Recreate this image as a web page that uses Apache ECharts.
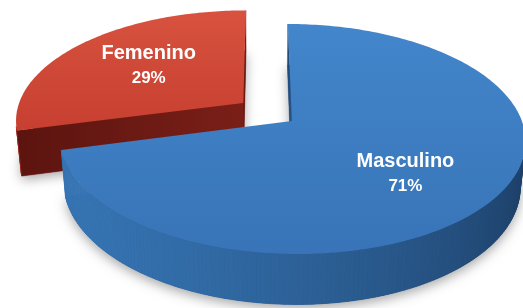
<!DOCTYPE html>
<html lang="es">
<head>
    <meta charset="UTF-8">
    <title>Sexo</title>
    <script src="https://cdn.jsdelivr.net/npm/echarts@6/dist/echarts.min.js"></script>
</head>
<style>
html,body{margin:0;padding:0;background:#fff;}
#chartBox{width:523px;height:308px;}
</style>
<body>
    <div id="chartBox"></div>
</body>
<script>
// datos
const names = ['Femenino', 'Masculino'];
const values = [29, 71];

// estilo de cada porción
const STYLE = {
    Femenino: {
        explode: 0.27,
        top: ['#d8523f', '#c63f30'],
        side: ['#5a130f', '#a32c21'],
        cut: ['#5c140f', '#7a1f18'],
        labelOffset: [5, 0]
    },
    Masculino: {
        explode: 0,
        top: ['#4386cb', '#3874b7'],
        side: ['#1b3b61', '#3674b3'],
        cut: ['#1f4370', '#2a5a8e'],
        labelOffset: [-4, 9]
    }
};

// proyección en perspectiva (cámara algo a la izquierda del centro)
const RAD = Math.PI / 180;
const CX = 262, CY = 121, K = 1281, D = 5.57, TILT = 29.2 * RAD, H = 0.23, CAMX = -0.13;
const SA = Math.sin(TILT), CA = Math.cos(TILT);
const CAM = [CAMX, -D * CA, D * SA];

function proj(x, y, z) {
    let yv = y * SA + z * CA;
    let zd = y * CA - z * SA;
    let s = K / (D + zd);
    return [CX + (x - CAMX) * s, CY - yv * s];
}

function mix(c1, c2, t) {
    let a = parseInt(c1.slice(1), 16), b = parseInt(c2.slice(1), 16);
    let r = Math.round(((a >> 16) & 255) * (1 - t) + ((b >> 16) & 255) * t);
    let g = Math.round(((a >> 8) & 255) * (1 - t) + ((b >> 8) & 255) * t);
    let bl = Math.round((a & 255) * (1 - t) + (b & 255) * t);
    return 'rgb(' + r + ',' + g + ',' + bl + ')';
}

// ángulos (grados, sentido horario desde las 12)
const total = values.reduce((a, b) => a + b, 0);
const angles = [];
let acc = 0;
values.forEach(v => {
    let a1 = 360 - acc / total * 360;
    acc += v;
    let a0 = 360 - acc / total * 360;
    angles.push([a0, a1]);
});

function renderSlice(params, api) {
    let i = params.dataIndex;
    let v = api.value(0);
    let a0 = angles[i][0], a1 = angles[i][1];
    let st = STYLE[names[i]];
    let mid = (a0 + a1) / 2;
    let ox = st.explode * Math.sin(mid * RAD), oy = st.explode * Math.cos(mid * RAD);
    let P = (r, deg, z) => proj(ox + r * Math.sin(deg * RAD), oy + r * Math.cos(deg * RAD), z);

    let n = Math.ceil(a1 - a0);
    let step = (a1 - a0) / n;
    let topArc = [], botArc = [];
    for (let k = 0; k <= n; k++) {
        topArc.push(P(1, a0 + k * step, 0));
        botArc.push(P(1, a0 + k * step, -H));
    }
    let children = [];

    // sombra
    children.push({
        type: 'polygon',
        shape: {points: [P(0, 0, -H)].concat(botArc)},
        style: {fill: st.side[0], shadowBlur: 12, shadowColor: 'rgba(0,0,0,0.35)', shadowOffsetY: 4}
    });

    // pared exterior
    for (let k = 0; k < n; k++) {
        let th = a0 + (k + 0.5) * step;
        let px = ox + Math.sin(th * RAD), py = oy + Math.cos(th * RAD);
        let dot = Math.sin(th * RAD) * (CAM[0] - px) + Math.cos(th * RAD) * (CAM[1] - py);
        if (dot <= 0) continue;
        let t = (1 + Math.cos((th - 250) * RAD)) / 2;
        let c = mix(st.side[0], st.side[1], t);
        children.push({
            type: 'polygon',
            shape: {points: [topArc[k], topArc[k + 1], botArc[k + 1], botArc[k]]},
            style: {fill: c, stroke: c, lineWidth: 0.8}
        });
    }

    // caras de corte
    let faces = [
        {deg: a0, n: [-Math.cos(a0 * RAD), Math.sin(a0 * RAD)]},
        {deg: a1, n: [Math.cos(a1 * RAD), -Math.sin(a1 * RAD)]}
    ];
    faces.forEach(f => {
        let dot = f.n[0] * (CAM[0] - ox) + f.n[1] * (CAM[1] - oy);
        if (dot <= 0.01) return;
        children.push({
            type: 'polygon',
            shape: {points: [P(0, 0, 0), P(1, f.deg, 0), P(1, f.deg, -H), P(0, 0, -H)]},
            style: {
                fill: {type: 'linear', x: 0, y: 0, x2: 1, y2: 0,
                    colorStops: [{offset: 0, color: st.cut[0]}, {offset: 1, color: st.cut[1]}]},
                stroke: st.cut[1], lineWidth: 0.5
            }
        });
    });

    // cara superior
    children.push({
        type: 'polygon',
        shape: {points: [P(0, 0, 0)].concat(topArc)},
        style: {
            fill: {type: 'linear', x: 0, y: 0, x2: 0, y2: 1,
                colorStops: [{offset: 0, color: st.top[0]}, {offset: 1, color: st.top[1]}]}
        }
    });

    // etiquetas
    let lp = P(0.6, mid, 0);
    let lx = lp[0] + st.labelOffset[0], ly = lp[1] + st.labelOffset[1];
    let txt = {fill: '#fff', align: 'center', verticalAlign: 'middle',
        shadowBlur: 3, shadowColor: 'rgba(0,0,0,0.45)', shadowOffsetY: 1};
    children.push({
        type: 'text', x: lx, y: ly - 12,
        style: Object.assign({text: names[i], font: 'bold 20px "Liberation Sans"'}, txt)
    });
    children.push({
        type: 'text', x: lx, y: ly + 13,
        style: Object.assign({text: Math.round(v / total * 100) + '%', font: 'bold 17px "Liberation Sans"'}, txt)
    });

    return {type: 'group', children: children};
}

let chartObj = echarts.init(document.getElementById('chartBox'));
chartObj.setOption({
    animation: false,
    series: [{
        type: 'custom',
        coordinateSystem: 'none',
        renderItem: renderSlice,
        data: names.map((nm, i) => ({name: nm, value: values[i]}))
    }]
});
</script>
</html>
